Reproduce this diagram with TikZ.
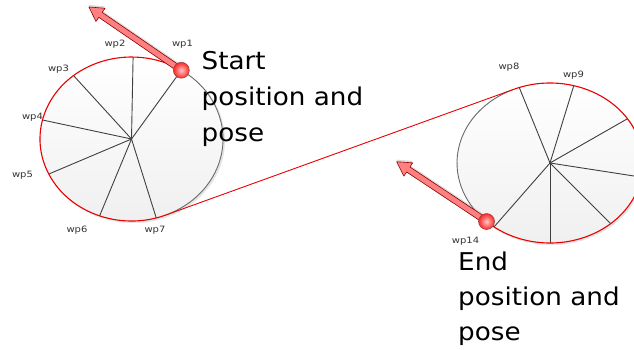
\documentclass[tikz,border=0pt]{standalone}
\usepackage{fontspec}
\setmainfont{DejaVu Sans}
\usetikzlibrary{calc}
\begin{document}
\begin{tikzpicture}[x=1pt,y=-1pt,
  spoke/.style={draw=black!75, line width=0.9pt},
  redline/.style={draw=red!92!black, line width=1.1pt},
  grayline/.style={draw=black!58, line width=0.9pt},
  wplabel/.style={font=\fontsize{8.7}{10}\selectfont, text=black!80, inner sep=0pt, anchor=base, xscale=1.15},
  bigtext/.style={font=\fontsize{24.5}{30}\selectfont, text=black, inner sep=0pt, anchor=base west, xscale=1.07},
  dot/.style={circle, minimum size=16pt, inner sep=0pt, draw=red!45!black!75, line width=0.5pt, inner color=red!22, outer color=red!85},
  arrowbody/.style={fill=red!50!white, draw=red!55!black, line width=0.6pt, line join=round},
  arrowshadow/.style={fill=black!40, opacity=0.35}
]
\clip (0,0) rectangle (634,349);
\fill[white] (0,0) rectangle (634,349);

% ---------- left ellipse ----------
\coordinate (L) at (131.5,139);
\fill[black!20, opacity=0.5] ($(L)+(1.5,1.5)$) ellipse [x radius=92, y radius=82.5];
\shade[top color=white, bottom color=black!6] (L) ellipse [x radius=91.5, y radius=82];
\foreach \t [count=\i] in {-57,-89,-129.3,-166.6,154.7,110.4,74.3}
  \coordinate (Ls\i) at ($(L)+(\t:91.5 and 82)$);
\foreach \i in {1,...,7} \draw[spoke] (L) -- (Ls\i);
\coordinate (Lt) at ($(L)+(67.8:91.5 and 82)$);
\draw[grayline] (Ls1) arc[start angle=-57, end angle=67.8, x radius=91.5, y radius=82];
\draw[redline] (Lt) arc[start angle=67.8, end angle=303, x radius=91.5, y radius=82];

% ---------- right ellipse ----------
\coordinate (R) at (550,163);
\fill[black!20, opacity=0.5] ($(R)+(1.5,1.5)$) ellipse [x radius=93.5, y radius=80.5];
\shade[top color=white, bottom color=black!6] (R) ellipse [x radius=93, y radius=80];
\foreach \t [count=\i] in {250.7,284.8,326.4,10.2,49.3,90,127}
  \coordinate (Rs\i) at ($(R)+(\t:93 and 80)$);
\foreach \i in {1,...,7} \draw[spoke] (R) -- (Rs\i);
\coordinate (Rt) at ($(R)+(247:93 and 80)$);
\coordinate (Rd) at ($(R)+(133:93 and 80)$);
\draw[grayline] (Rd) arc[start angle=133, end angle=247, x radius=93, y radius=80];
\draw[redline] (Rt) arc[start angle=247, end angle=493, x radius=93, y radius=80];

% ---------- tangent connector ----------
\draw[redline, line width=0.9pt] (Lt) -- (Rt);

% ---------- arrows ----------
\begin{scope}[shift={(Ls1)}, rotate=145.6]
  \fill[arrowshadow, shift={(1.5,1.5)}] (0,-3) -- (98,-3) -- (98,-8) -- (112,0) -- (98,8) -- (98,3) -- (0,3) -- cycle;
  \filldraw[arrowbody] (0,-3) -- (98,-3) -- (98,-8) -- (112,0) -- (98,8) -- (98,3) -- (0,3) -- cycle;
\end{scope}
\begin{scope}[shift={(Rd)}, rotate=146.4]
  \fill[arrowshadow, shift={(1.5,1.5)}] (0,-3) -- (94,-3) -- (94,-8) -- (108,0) -- (94,8) -- (94,3) -- (0,3) -- cycle;
  \filldraw[arrowbody] (0,-3) -- (94,-3) -- (94,-8) -- (108,0) -- (94,8) -- (94,3) -- (0,3) -- cycle;
\end{scope}

% ---------- dots ----------
\node[dot] (d1) at (Ls1) {};
\node[dot] (d14) at (Rd) {};

% ---------- labels ----------
\node[wplabel] (w1) at (182.5,46) {wp1};
\node[wplabel] (w2) at (115,46) {wp2};
\node[wplabel] (w3) at (58.5,71) {wp3};
\node[wplabel] (w4) at (32.5,119) {wp4};
\node[wplabel] (w5) at (22.5,177) {wp5};
\node[wplabel] (w6) at (77,232) {wp6};
\node[wplabel] (w7) at (155,232) {wp7};
\node[wplabel] (w8) at (509,69) {wp8};
\node[wplabel] (w9) at (573.5,77) {wp9};
\node[wplabel] (w14) at (465.5,243) {wp14};

% ---------- big texts ----------
\node[bigtext] (s1) at (201.5,69.5) {Start};
\node[bigtext] (s2) at (201.5,105.5) {position and};
\node[bigtext] (s3) at (201.5,141.5) {pose};
\node[bigtext] (e1) at (458,270.5) {End};
\node[bigtext] (e2) at (458,305.5) {position and};
\node[bigtext] (e3) at (458,340.5) {pose};
\end{tikzpicture}
\end{document}
